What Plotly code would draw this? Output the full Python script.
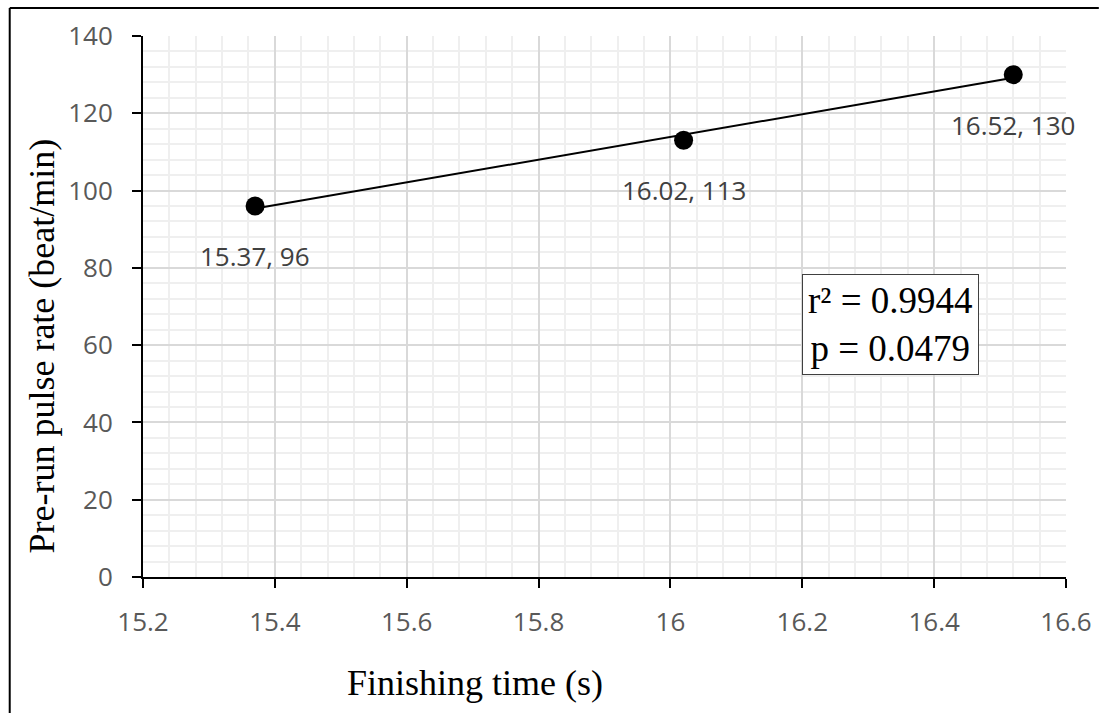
import numpy as np
import plotly.graph_objects as go

# Data
finishing_time = [15.37, 16.02, 16.52]
pulse_rate = [96, 113, 130]
point_labels = ["15.37, 96", "16.02, 113", "16.52, 130"]
x_ticks = [15.2, 15.4, 15.6, 15.8, 16.0, 16.2, 16.4, 16.6]
x_tick_text = ["15.2", "15.4", "15.6", "15.8", "16", "16.2", "16.4", "16.6"]
y_ticks = [0, 20, 40, 60, 80, 100, 120, 140]
stats_text = "r² = 0.9944<br>p = 0.0479"

W, H = 1104, 713
# plot area in page pixels
L, R, T, B = 143, 1071, 36, 577


def px_x(p):
    return (p - L) / (R - L)


def px_y(p):
    return (B - p) / (B - T)


# linear trendline from the data
slope, intercept = np.polyfit(finishing_time, pulse_rate, 1)
trend_x = [min(finishing_time), max(finishing_time)]
trend_y = [slope * v + intercept for v in trend_x]

fig = go.Figure()
fig.add_trace(go.Scatter(x=trend_x, y=trend_y, mode="lines",
                         line=dict(color="black", width=2), showlegend=False,
                         hoverinfo="skip"))
fig.add_trace(go.Scatter(x=finishing_time, y=pulse_rate, mode="markers",
                         marker=dict(color="black", size=19), showlegend=False))

tick_font = dict(family="Open Sans, Lato, sans-serif", size=26, color="#595959")
label_font = dict(family="Open Sans, Lato, sans-serif", size=26, color="#404040")
for xv, yv, t in zip(finishing_time, pulse_rate, point_labels):
    fig.add_annotation(x=xv, y=yv, xref="x", yref="y", text=t, showarrow=False,
                       xanchor="center", yanchor="middle",
                       yshift=-50, font=label_font)

serif = "Liberation Serif, Times New Roman, serif"
fig.add_annotation(x=px_x(895), y=px_y(324), xref="paper", yref="paper",
                   text=stats_text, showarrow=False, align="center",
                   xanchor="center", yanchor="middle",
                   font=dict(family=serif, size=37, color="black"),
                   bordercolor="#404040", borderwidth=1, borderpad=5, bgcolor="white")

title_font = dict(family=serif, size=36, color="black")
fig.add_annotation(x=px_x(477), y=px_y(683), xref="paper", yref="paper",
                   xanchor="center", yanchor="middle",
                   text="Finishing time (s)", showarrow=False, font=title_font)
fig.add_annotation(x=px_x(41), y=px_y(346), xref="paper", yref="paper",
                   xanchor="center", yanchor="middle",
                   text="Pre-run pulse rate (beat/min)", showarrow=False,
                   textangle=-90, font=title_font)

# outer frame (top and left)
fig.add_shape(type="line", xref="paper", yref="paper",
              x0=px_x(9), x1=px_x(W), y0=px_y(8), y1=px_y(8),
              line=dict(color="black", width=2))
fig.add_shape(type="line", xref="paper", yref="paper",
              x0=px_x(9), x1=px_x(9), y0=px_y(8), y1=px_y(H),
              line=dict(color="black", width=2))

fig.update_xaxes(range=[15.2, 16.6], tickvals=x_ticks, ticktext=x_tick_text,
                 showgrid=True, gridcolor="#d9d9d9", gridwidth=1.5,
                 minor=dict(dtick=0.04, tick0=15.2, showgrid=True, gridcolor="#efefef", gridwidth=1.5),
                 showline=True, linecolor="black", linewidth=2,
                 ticks="outside", ticklen=9, tickwidth=2, tickcolor="black",
                 tickfont=tick_font, ticklabelstandoff=12, zeroline=False)
fig.update_yaxes(range=[0, 140], tickvals=y_ticks,
                 showgrid=True, gridcolor="#d9d9d9", gridwidth=1.5,
                 minor=dict(dtick=4, tick0=0, showgrid=True, gridcolor="#efefef", gridwidth=1.5),
                 showline=True, linecolor="black", linewidth=2,
                 ticks="outside", ticklen=9, tickwidth=2, tickcolor="black",
                 tickfont=tick_font, ticklabelstandoff=14, zeroline=False)

fig.update_layout(width=W, height=H,
                  margin=dict(l=L, r=W - R, t=T, b=H - B),
                  plot_bgcolor="white", paper_bgcolor="white", showlegend=False)

fig.write_html("out.html", config={"displayModeBar": False},
               post_script="document.body.style.margin='0';document.body.style.overflow='hidden';")
